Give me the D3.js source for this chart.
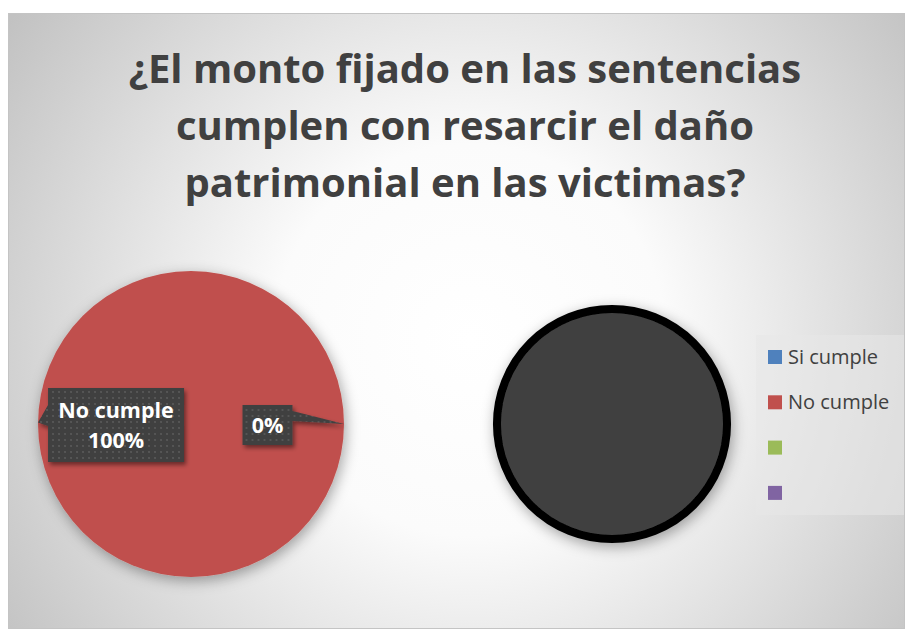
<!DOCTYPE html>
<html>
<head>
<meta charset="utf-8">
<script src="https://cdn.jsdelivr.net/npm/d3@7"></script>
<style>
  body { margin: 0; background: #fff; }
  svg { display: block; }
</style>
</head>
<body>
<svg id="chart" width="909" height="631"></svg>
<script>
// data
var titleLines = ["¿El monto fijado en las sentencias", "cumplen con resarcir el daño", "patrimonial en las victimas?"];
var categories = ["Si cumple", "No cumple", "", ""];
var categoryColors = ["#4f81bd", "#c0504d", "#9bbb59", "#8064a2"];
var answerPercent = [0, 100, 0, 0];
var otherPie = [100];

var svg = d3.select("#chart");
var defs = svg.append("defs");

// background gradient
var grad = defs.append("radialGradient")
    .attr("id", "bg")
    .attr("gradientUnits", "userSpaceOnUse")
    .attr("cx", 470).attr("cy", 340).attr("r", 560);
grad.append("stop").attr("offset", 0).attr("stop-color", "#ffffff");
grad.append("stop").attr("offset", 0.35).attr("stop-color", "#fbfbfb");
grad.append("stop").attr("offset", 1).attr("stop-color", "#c2c2c2");

// dotted fill of the data labels
var pat = defs.append("pattern")
    .attr("id", "dots")
    .attr("patternUnits", "userSpaceOnUse")
    .attr("width", 6).attr("height", 6);
pat.append("rect").attr("width", 6).attr("height", 6).attr("fill", "#404040");
pat.append("circle").attr("cx", 3).attr("cy", 3).attr("r", 0.9).attr("fill", "#5e5e5e");

var soft = defs.append("filter").attr("id", "soft")
    .attr("x", "-20%").attr("y", "-20%").attr("width", "140%").attr("height", "140%");
soft.append("feDropShadow").attr("dx", 2).attr("dy", 4).attr("stdDeviation", 7)
    .attr("flood-color", "#000").attr("flood-opacity", 0.35);

var boxShadow = defs.append("filter").attr("id", "boxShadow")
    .attr("x", "-20%").attr("y", "-20%").attr("width", "140%").attr("height", "140%");
boxShadow.append("feDropShadow").attr("dx", 2).attr("dy", 3).attr("stdDeviation", 2)
    .attr("flood-color", "#000").attr("flood-opacity", 0.45);

svg.append("rect")
    .attr("x", 8.5).attr("y", 13.5)
    .attr("width", 896).attr("height", 615)
    .attr("fill", "url(#bg)")
    .attr("stroke", "#c4c4c4");

// title
svg.append("g").selectAll("text")
    .data(titleLines)
    .enter()
    .append("text")
    .attr("x", 465)
    .attr("y", function(d, i) { return 83 + i * 57; })
    .attr("text-anchor", "middle")
    .attr("font-family", "Open Sans, sans-serif")
    .attr("font-weight", "bold")
    .attr("font-size", 40)
    .attr("fill", "#404040")
    .text(function(d) { return d; });

// main pie
var cx = 191, cy = 424, r = 153;
var pie = d3.pie().sort(null).value(function(d) { return d; });
var arc = d3.arc().innerRadius(0).outerRadius(r);

var pieG = svg.append("g")
    .attr("transform", "translate(" + cx + "," + cy + ")")
    .attr("filter", "url(#soft)");

pieG.selectAll("path")
    .data(pie(answerPercent))
    .enter()
    .append("path")
    .attr("d", arc)
    .attr("fill", function(d, i) { return categoryColors[i]; });

// second pie (dark)
var cx2 = 612, cy2 = 424, r2 = 115;
var arc2 = d3.arc().innerRadius(0).outerRadius(r2);
svg.append("g")
    .attr("transform", "translate(" + cx2 + "," + cy2 + ")")
    .attr("filter", "url(#soft)")
    .selectAll("path")
    .data(pie(otherPie))
    .enter()
    .append("path")
    .attr("d", arc2)
    .attr("fill", "#404040")
    .attr("stroke", "#000")
    .attr("stroke-width", 8);

// data labels (callouts)
var labels = [
    {lines: ["No cumple", "100%"], dx: -0.49, w: 136, h: 74, tip: [-1, -0.01], base: [[-68, -20], [-68, 1]]},
    {lines: ["0%"], dx: 0.5, w: 50, h: 40, tip: [1, 0], base: [[25, -14], [25, -4]]}
];
var lab = svg.append("g").selectAll("g")
    .data(labels)
    .enter()
    .append("g")
    .attr("transform", function(d) {
        return "translate(" + (cx + d.dx * r) + "," + (cy + 1) + ")";
    });

lab.append("path")
    .attr("filter", "url(#boxShadow)")
    .attr("fill", "url(#dots)")
    .attr("d", function(d) {
        var x0 = -d.w / 2, y0 = -d.h / 2;
        var tipX = (d.tip[0] - d.dx) * r, tipY = d.tip[1] * r - 1;
        var p = d3.path();
        p.rect(x0, y0, d.w, d.h);
        p.moveTo(d.base[0][0], d.base[0][1]);
        p.lineTo(tipX, tipY);
        p.lineTo(d.base[1][0], d.base[1][1]);
        p.closePath();
        return p.toString();
    });

lab.each(function(d) {
    var g = d3.select(this);
    var n = d.lines.length;
    d.lines.forEach(function(t, j) {
        g.append("text")
            .attr("x", 0)
            .attr("y", (j - (n - 1) / 2) * 30 + 8)
            .attr("text-anchor", "middle")
            .attr("font-family", "Open Sans, sans-serif")
            .attr("font-weight", "bold")
            .attr("font-size", 21.5)
            .attr("fill", "#fff")
            .text(t);
    });
});

// legend
var legend = svg.append("g");
legend.append("rect")
    .attr("x", 756).attr("y", 335)
    .attr("width", 148).attr("height", 180)
    .attr("fill", "#e8e8e8").attr("fill-opacity", 0.55);

var item = legend.selectAll("g")
    .data(categories)
    .enter()
    .append("g")
    .attr("transform", function(d, i) { return "translate(768," + (357 + i * 45.3) + ")"; });

item.append("rect")
    .attr("x", 0).attr("y", -7)
    .attr("width", 14).attr("height", 14)
    .attr("fill", function(d, i) { return categoryColors[i]; });

item.append("text")
    .attr("x", 20).attr("y", 7)
    .attr("font-family", "Open Sans, sans-serif")
    .attr("font-size", 20)
    .attr("fill", "#404040")
    .text(function(d) { return d; });
</script>
</body>
</html>
